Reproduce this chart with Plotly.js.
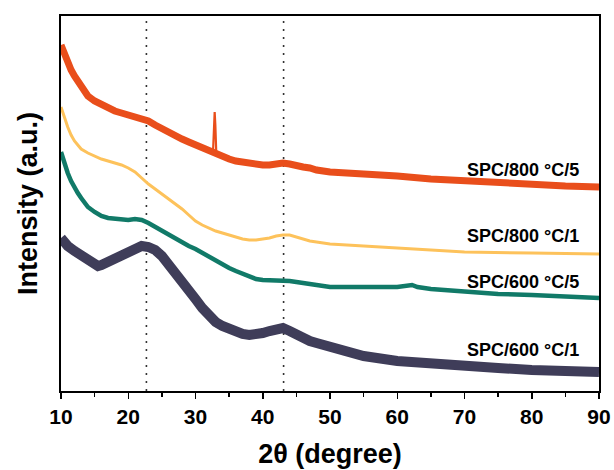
<!DOCTYPE html>
<html>
<head>
<meta charset="utf-8">
<script src="https://cdn.plot.ly/plotly-3.0.1.min.js"></script>
<style>html,body{margin:0;padding:0;background:#fff;}#chart{width:614px;height:470px;}</style>
</head>
<body>
<div id="chart"></div>
<script>
// 2θ positions (degree) and intensities (arbitrary units)
const x800_5 = [10, 10.5, 11, 11.5, 12, 12.5, 13, 13.5, 14, 15, 16, 17, 18, 19, 20, 21, 22, 23, 24, 25, 26, 27, 28, 29, 30, 31, 32, 32.6, 32.75, 32.85, 32.95, 33.1, 34, 35, 36, 37, 38, 39, 40, 41, 42, 43, 44, 45, 46, 47, 48, 50, 55, 58.5, 60, 65, 70, 75, 80, 85, 90];
const y800_5 = [346, 336, 328, 321, 315, 310, 304, 299, 295, 290, 286, 283, 280, 278, 276, 275, 273, 270, 266, 262, 258, 255, 252, 249, 246, 243, 240, 238, 256, 279, 266, 236, 234, 232, 230, 229, 227, 226, 226, 226, 227, 228, 227, 225, 224, 223, 221, 219, 217, 217, 215, 212, 210, 208, 207, 205, 204];

const x800_1 = [10, 10.5, 11, 11.5, 12, 12.5, 13, 14, 15, 16, 17, 18, 19, 20, 21, 22, 23, 24, 25, 26, 27, 28, 29, 30, 31, 32, 33, 34, 35, 36, 37, 38, 39, 40, 41, 42, 43, 44, 45, 46, 47, 48, 50, 55, 60, 70, 80, 90];
const y800_1 = [284, 273, 264, 256, 250, 246, 242, 238, 235, 232, 230, 228, 226, 223, 219, 213, 207, 202, 197, 192, 187, 182, 176, 170, 166, 163, 160, 158, 156, 154, 152, 151, 151, 152, 153, 155, 156, 156, 154, 152, 150, 149, 147, 145, 143, 139, 138, 137];

const x600_5 = [10, 10.5, 11, 11.5, 12, 12.5, 13, 13.5, 14, 15, 16, 17, 18, 19, 20, 21, 22, 23, 24, 25, 26, 27, 28, 29, 30, 31, 32, 33, 34, 35, 36, 37, 38, 39, 40, 41, 42, 43, 44, 45, 46, 48, 50, 55, 60, 62.2, 63, 65, 70, 75, 80, 85, 90];
const y600_5 = [239, 228, 218, 210, 203, 198, 193, 188, 184, 179, 175, 173, 172, 171, 171, 172, 171, 168, 164, 160, 157, 153, 148, 145, 142, 138, 134, 130, 127, 123, 120, 117, 114, 112, 111, 111, 111, 111, 110, 109, 108, 106, 104, 104, 104, 106, 104, 102, 99, 97, 96, 95, 93];

const x600_1 = [10, 10.5, 11, 12, 13, 14, 15, 15.5, 16, 17, 18, 19, 20, 21, 22, 23, 24, 25, 26, 27, 28, 29, 30, 31, 32, 33, 34, 35, 36, 37, 38, 39, 40, 41, 42, 43, 44, 45, 46, 47, 48, 50, 52, 55, 60, 65, 70, 75, 80, 85, 90];
const y600_1 = [153, 148, 145, 140, 136, 132, 127, 125, 126, 129, 133, 136, 140, 143, 145, 144, 141, 135, 127, 119, 111, 101, 92, 83, 75, 69, 65, 62, 59, 57, 56, 56, 58, 60, 62, 63, 60, 56, 53, 50, 48, 44, 40, 35, 30, 27, 24, 23, 21, 20, 19];

const seriesNames = ["SPC/800 °C/5", "SPC/800 °C/1", "SPC/600 °C/5", "SPC/600 °C/1"];
const labelY = [221, 155, 109, 41];
const refLines = [22.7, 43.1];
const xTicks = [10, 20, 30, 40, 50, 60, 70, 80, 90];
const sharpPeak = [32.6, 33.1]; // narrow reflection of SPC/800 °C/5, drawn thin

const colors = ["#E94E1B", "#FDC25B", "#117A68", "#3F3D59"];
const widths = [7, 3, 4.5, 10];
const xs = [x800_5, x800_1, x600_5, x600_1];
const ys = [y800_5, y800_1, y600_5, y600_1];

const traces = [];
xs.forEach((xv, i) => {
  let px = xv, py = ys[i];
  if (i === 0) {
    const keep = xv.map((v) => !(v > sharpPeak[0] && v < sharpPeak[1]));
    px = xv.filter((v, k) => keep[k]);
    py = ys[i].filter((v, k) => keep[k]);
  }
  traces.push({
    x: px, y: py, type: 'scatter', mode: 'lines', name: seriesNames[i],
    line: {color: colors[i], width: widths[i], shape: 'linear'},
    hoverinfo: 'skip'
  });
});
// thin sharp peak
const pk = x800_5.map((v, k) => k).filter(k => x800_5[k] >= sharpPeak[0] && x800_5[k] <= sharpPeak[1]);
traces.push({
  x: pk.map(k => x800_5[k]), y: pk.map(k => y800_5[k]), type: 'scatter', mode: 'lines',
  line: {color: colors[0], width: 2.2, shape: 'linear'}, hoverinfo: 'skip', showlegend: false
});

const bold = {family: 'Liberation Sans, Arial, sans-serif', color: '#000', weight: 'bold'};

const layout = {
  width: 614, height: 470,
  margin: {l: 61, r: 15, t: 16, b: 79},
  paper_bgcolor: '#fff', plot_bgcolor: '#fff',
  showlegend: false,
  xaxis: {
    range: [10, 90], showgrid: false, zeroline: false,
    showline: true, linecolor: '#000', linewidth: 2, mirror: true,
    ticks: 'outside', ticklen: 6, tickwidth: 1.5, tickcolor: '#000',
    tickvals: xTicks, ticktext: xTicks.map(String),
    minor: {dtick: 5, ticks: 'outside', ticklen: 3.5, tickwidth: 1.5, tickcolor: '#000', showgrid: false},
    tickfont: Object.assign({size: 21}, bold),
    title: {text: '2θ (degree)', font: Object.assign({size: 27}, bold), standoff: 17}
  },
  yaxis: {
    range: [0, 375], showgrid: false, zeroline: false,
    showline: true, linecolor: '#000', linewidth: 2, mirror: true,
    ticks: '', showticklabels: false,
    title: {text: 'Intensity (a.u.)', font: Object.assign({size: 27}, bold), standoff: 14}
  },
  shapes: refLines.map(v => ({
    type: 'line', xref: 'x', yref: 'paper', x0: v, x1: v, y0: 0, y1: 1,
    line: {color: '#333', width: 1.6, dash: '2px,6px'}, layer: 'below'
  })),
  annotations: seriesNames.map((t, i) => ({
    text: t, x: 87.3, y: labelY[i], xref: 'x', yref: 'y',
    xanchor: 'right', yanchor: 'middle', showarrow: false,
    font: Object.assign({size: 18}, bold)
  }))
};

Plotly.newPlot('chart', traces, layout, {displayModeBar: false, staticPlot: true});
</script>
</body>
</html>
